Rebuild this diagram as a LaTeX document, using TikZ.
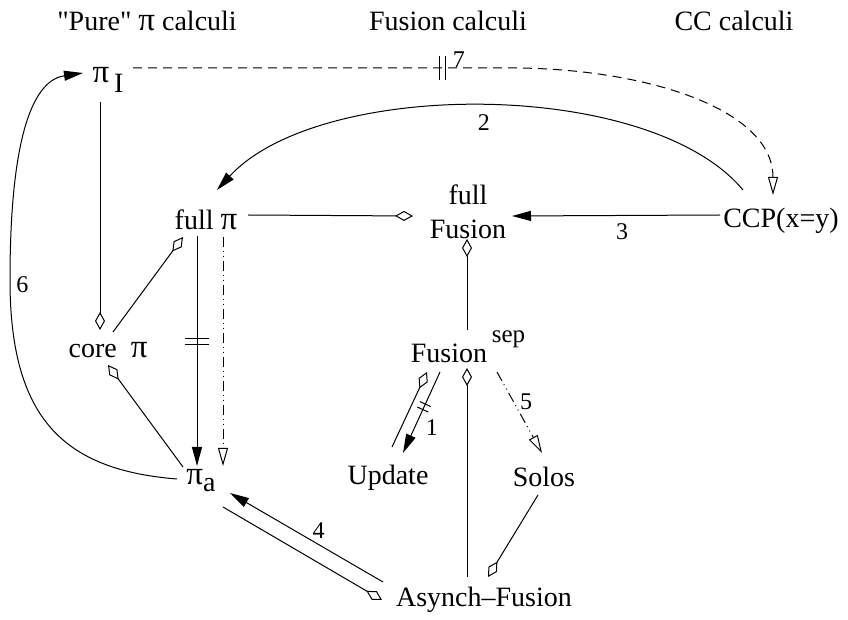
\documentclass[tikz,border=0pt]{standalone}
\usepackage{fontspec}
\setmainfont{Liberation Serif}[Ligatures=TeXOff]
\usetikzlibrary{arrows.meta,calc}

\newcommand\piglyph{{\fontsize{16.5}{17}\selectfont π}}

\tikzset{
  calcname/.style={font=\fontsize{14}{17}\selectfont, inner sep=0pt, anchor=base},
  lab/.style={font=\fontsize{12}{14}\selectfont, inner sep=1pt},
  incl/.style={-{Diamond[open,length=9pt,width=5pt]}},
  enc/.style={-{Triangle[length=9.5pt,width=5pt]}},
  opentip/.style={-{Triangle[open,length=9pt,width=5pt]}},
  weak/.style={opentip,dash pattern=on 5pt off 2pt on .5pt off 2pt on .5pt off 2pt},
  pics/bars/.style={code={\draw[solid,-] (-1.5pt,-#1)--(-1.5pt,#1) (1.5pt,-#1)--(1.5pt,#1);}},
}

\begin{document}
\begin{tikzpicture}[x=.5pt,y=-.5pt,line width=.5pt]
\useasboundingbox (0,0) rectangle (848,620);
% column heads
\node[calcname] (hpure) at (147,31) {"Pure" \piglyph{} calculi};
\node[calcname] (hfus) at (448,31) {Fusion calculi};
\node[calcname] (hcc) at (734,31) {CC calculi};
% calculi
\node[calcname] (piI) at (108,83) {\piglyph\,\raisebox{-5pt}{I}};
\node[calcname] (fullpi) at (206,230) {full \piglyph};
\node[calcname,align=center,anchor=south] (fullfus) at (468,239) {full\\Fusion};
\node[calcname] (ccp) at (781,228) {CCP(x=y)};
\node[calcname] (corepi) at (108,358) {core\enspace\piglyph};
\node[calcname] (fsep) at (468,363) {Fusion\,\raisebox{10pt}{\fontsize{12.5}{14}\selectfont sep}};
\node[calcname] (update) at (388,485) {Update};
\node[calcname] (solos) at (544,487) {Solos};
\node[calcname] (pia) at (201,485) {\piglyph\raisebox{-3.5pt}{a}};
\node[calcname] (async) at (484,607) {Asynch–Fusion};
% sub-calculi
\draw[incl] ($(piI.base)+(-8,19)$) -- ($(corepi.base)+(-8,-28)$);
\draw[incl] ($(corepi.base)+(5,-26)$) -- ($(fullpi.base)+(-23,7)$);
\draw[incl] ($(pia.base)+(-18,-18)$) -- ($(corepi.base)+(0,7)$);
\draw[incl] ($(fullpi.base)+(42,-15)$) -- ($(fullfus.south)+(-55,-23)$);
\draw[incl] ($(fsep.base)+(-1,-33)$) -- ($(fullfus.south)+(-1,0)$);
\draw[incl] ($(async.base)+(-17,-30)$) -- ($(fsep.base)+(-1,5)$);
\draw[incl] ($(update.base)+(4,-38)$) -- ($(fsep.base)+(-41,9)$);
\draw[incl] ($(solos.base)+(-6,8)$) -- ($(async.base)+(4,-30)$);
\draw[incl] ($(pia.base)+(22,22)$) -- ($(async.base)+(-102,-7)$);
% encodings
\draw[enc] ($(fullpi.base)+(-9,6)$) -- pic[pos=.46,sloped]{bars=6pt} ($(pia.base)+(-4,-19)$);
\draw[enc] ($(ccp.base)+(-61,-13)$) -- node[lab,pos=.47,below=3pt] (l3) {3} ($(fullfus.south)+(44,-23)$);
\draw[enc] ($(ccp.base)+(-38,-38)$) .. controls (650,78) and (320,78) .. node[lab,pos=.5,below=3pt] (l2) {2} ($(fullpi.base)+(11,-40)$);
\draw[enc] ($(fsep.base)+(-28,9)$) -- pic[pos=.43,sloped]{bars=3pt} node[lab,pos=.69,right=4.4pt] (l1) {1} ($(update.base)+(15,-32)$);
\draw[enc] ($(async.base)+(-101,-25)$) -- node[lab,pos=.42,above=2pt] (l4) {4} ($(pia.base)+(29,8)$);
\draw[enc] ($(pia.base)+(-24,-6)$) .. controls (65,470) and (10,420) .. (10,280)
  node[lab,anchor=west,xshift=2pt,yshift=-2.5pt] (l6) {6}
  .. controls (10,130) and (35,80) .. ($(piI.base)+(-25,-10)$);
% weak encodings
\draw[weak] ($(fullpi.base)+(17,7)$) -- ($(pia.base)+(22,-19)$);
\draw[weak] ($(fsep.base)+(29,9)$) -- node[lab,pos=.37,right=2pt] (l5) {5} ($(solos.base)+(-2,-34)$);
\draw[opentip,dash pattern=on 4.5pt off 3pt] ($(piI.base)+(25,-15)$) -- pic[pos=.8,sloped]{bars=6pt}
  node[lab,pos=.82,anchor=base west] (l7) {7} (520,68)
  .. controls (650,70) and (773,110) .. ($(ccp.base)+(-8,-33)$);
\end{tikzpicture}
\end{document}
